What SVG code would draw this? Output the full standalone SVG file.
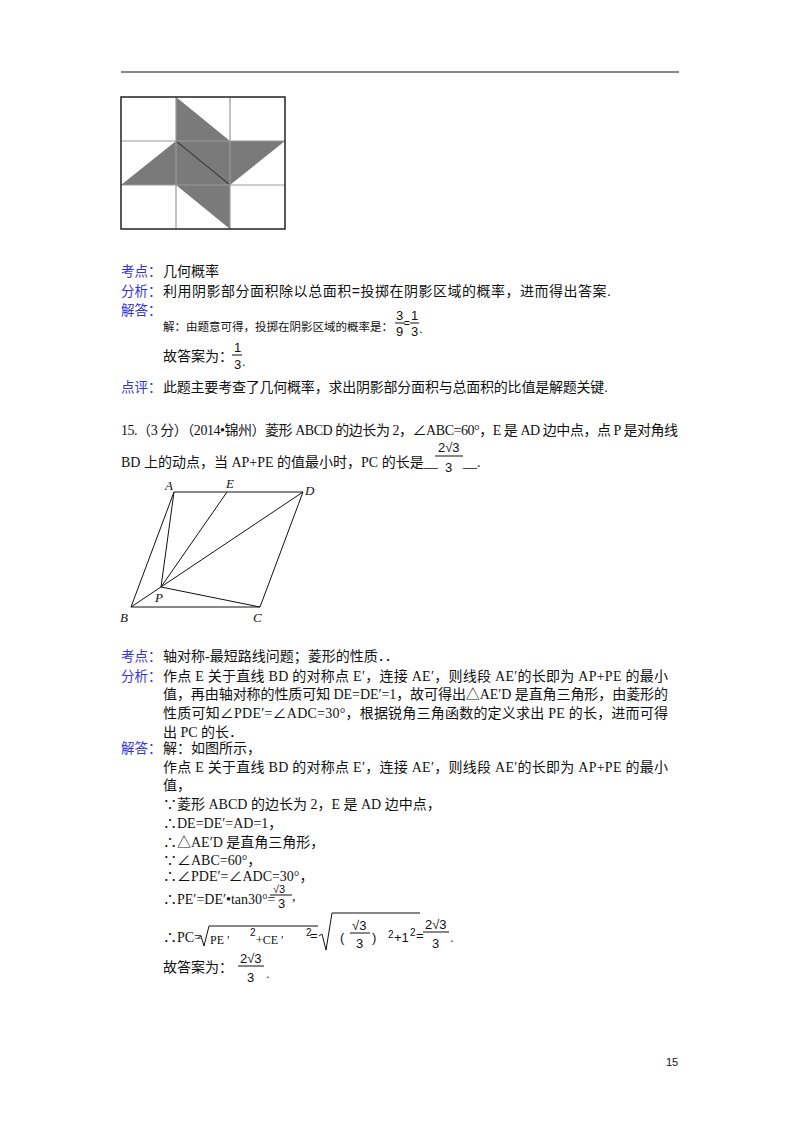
<svg xmlns="http://www.w3.org/2000/svg" width="800" height="1132" viewBox="0 0 800 1132">
<style>
.t{font-family:"Liberation Serif","Noto Sans CJK SC",serif;font-size:14px;fill:#111}
.b{font-family:"Noto Sans CJK SC","Liberation Sans",sans-serif;font-size:13.5px;fill:#3333dd}
.s{font-family:"Liberation Sans","Noto Sans CJK SC",sans-serif;font-size:14px;fill:#111}
.f{font-family:"Liberation Sans",sans-serif;font-size:13px;fill:#111}
.e{font-family:"Liberation Sans",sans-serif;font-size:10px;fill:#111}
.l{font-family:"Liberation Serif",serif;font-style:italic;font-size:13px;fill:#111}
.ln{stroke:#111;stroke-width:1;fill:none}
</style>
<rect width="800" height="1132" fill="#fff"/>
<line x1="121" y1="72" x2="679" y2="72" stroke="#111" stroke-width="1.2"/>
<g id="grid">
<polygon points="176,97 230,141 285,141 230,185 230,229 176,185 121,185 176,141" fill="#7a7a7a"/>
<line x1="176" y1="141" x2="230" y2="185" stroke="#222"/>
<g stroke="#999" stroke-width="1.2"><line x1="176" y1="97" x2="176" y2="229"/><line x1="230" y1="97" x2="230" y2="229"/><line x1="121" y1="141" x2="285" y2="141"/><line x1="121" y1="185" x2="285" y2="185"/></g>
<rect x="121" y="97" width="164" height="132" fill="none" stroke="#222" stroke-width="1.5"/>
</g>
<text class="b" x="121" y="276">考点：</text><text class="s" x="163" y="276">几何概率</text>
<text class="b" x="121" y="296">分析：</text><text class="s" x="163" y="296" textLength="448">利用阴影部分面积除以总面积=投掷在阴影区域的概率，进而得出答案.</text>
<text class="b" x="121" y="315">解答：</text><text class="s" x="163" y="331" style="font-size:11.5px">解：由题意可得，投掷在阴影区域的概率是：</text>
<text class="f" x="396" y="320">3</text><line class="ln" x1="395" y1="323" x2="405" y2="323"/><text class="f" x="396" y="336">9</text>
<text class="e" x="404" y="327">=</text>
<text class="f" x="411" y="320">1</text><line class="ln" x1="410" y1="323" x2="419" y2="323"/><text class="f" x="411" y="336">3</text><text class="f" x="419" y="333">.</text>
<text class="s" x="163" y="361">故答案为：</text>
<text class="f" x="234" y="352">1</text><line class="ln" x1="232" y1="355" x2="242" y2="355"/><text class="f" x="234" y="369">3</text><text class="f" x="242" y="366">.</text>
<text class="b" x="121" y="392">点评：</text><text class="s" x="163" y="392" textLength="445">此题主要考查了几何概率，求出阴影部分面积与总面积的比值是解题关键.</text>
<text class="t" x="121" y="435" textLength="557">15.（3 分）（2014•锦州）菱形 ABCD 的边长为 2，∠ABC=60°，E 是 AD 边中点，点 P 是对角线</text>
<text class="t" x="121" y="467">BD 上的动点，当 AP+PE 的值最小时，PC 的长是__</text>
<text class="f" x="438" y="452">2√3</text><line class="ln" x1="435" y1="456" x2="463" y2="456"/><text class="f" x="445" y="472">3</text><text class="t" x="463" y="467">__.</text>
<g id="rhombus">
<g class="ln"><polygon points="174,492 303,492 260,607 131,607"/><line x1="131" y1="607" x2="303" y2="492"/><line x1="174" y1="492" x2="161" y2="587"/><line x1="227" y1="492" x2="161" y2="587"/><line x1="161" y1="587" x2="260" y2="607"/></g>
<text class="l" x="165" y="490">A</text><text class="l" x="226" y="488">E</text><text class="l" x="305" y="495">D</text><text class="l" x="120" y="622">B</text><text class="l" x="253" y="622">C</text><text class="l" x="155" y="602">P</text>
</g>
<text class="b" x="121" y="661">考点：</text><text class="t" x="163" y="661">轴对称-最短路线问题；菱形的性质．．</text>
<text class="b" x="121" y="681">分析：</text><text class="t" x="163" y="681" textLength="505">作点 E 关于直线 BD 的对称点 E′，连接 AE′，则线段 AE′的长即为 AP+PE 的最小</text>
<text class="t" x="163" y="699" textLength="505">值，再由轴对称的性质可知 DE=DE′=1，故可得出△AE′D 是直角三角形，由菱形的</text>
<text class="t" x="163" y="718" textLength="505">性质可知∠PDE′=∠ADC=30°，根据锐角三角函数的定义求出 PE 的长，进而可得</text>
<text class="t" x="163" y="737">出 PC 的长．</text>
<text class="b" x="121" y="753">解答：</text><text class="t" x="163" y="753">解：如图所示，</text>
<text class="t" x="163" y="772" textLength="505">作点 E 关于直线 BD 的对称点 E′，连接 AE′，则线段 AE′的长即为 AP+PE 的最小</text>
<text class="t" x="163" y="790">值，</text>
<text class="t" x="163" y="809">∵菱形 ABCD 的边长为 2，E 是 AD 边中点，</text>
<text class="t" x="163" y="828">∴DE=DE′=AD=1，</text>
<text class="t" x="163" y="847">∴△AE′D 是直角三角形，</text>
<text class="t" x="163" y="865">∵∠ABC=60°，</text>
<text class="t" x="163" y="881">∴∠PDE′=∠ADC=30°，</text>
<text class="t" x="163" y="904">∴PE′=DE′•tan30°=</text>
<text class="f" x="273" y="893" style="font-size:11px">√3</text><line class="ln" x1="270" y1="895" x2="292" y2="895"/><text class="f" x="278" y="908">3</text><text class="t" x="292" y="901">,</text>
<text class="t" x="163" y="942">∴PC=</text>
<path class="ln" d="M198,938 L201,936 L204,946 L209,926 L318,926"/>
<text class="t" x="210" y="944" style="font-size:12px">PE ′</text><text class="e" x="250" y="936">2</text><text class="t" x="256" y="944" style="font-size:12px">+CE ′</text><text class="e" x="306" y="936">2</text>
<text class="f" x="310" y="940">=</text>
<path class="ln" d="M319,936 L322,934 L326,950 L332,913 L420,913"/>
<text class="f" x="340" y="942">(</text>
<text class="f" x="352" y="930">√3</text><line class="ln" x1="350" y1="933" x2="370" y2="933"/><text class="f" x="356" y="948">3</text>
<text class="f" x="372" y="942">)</text><text class="e" x="388" y="938">2</text><text class="f" x="394" y="942">+1</text><text class="e" x="410" y="936">2</text>
<text class="f" x="416" y="940">=</text>
<text class="f" x="425" y="929">2√3</text><line class="ln" x1="423" y1="932" x2="449" y2="932"/><text class="f" x="432" y="948">3</text><text class="f" x="450" y="942">.</text>
<text class="t" x="163" y="972">故答案为：</text>
<text class="f" x="240" y="963">2√3</text><line class="ln" x1="238" y1="966" x2="264" y2="966"/><text class="f" x="247" y="982">3</text><text class="f" x="266" y="978">.</text>
<text class="e" x="666" y="1066" style="font-size:11px">15</text>
</svg>
